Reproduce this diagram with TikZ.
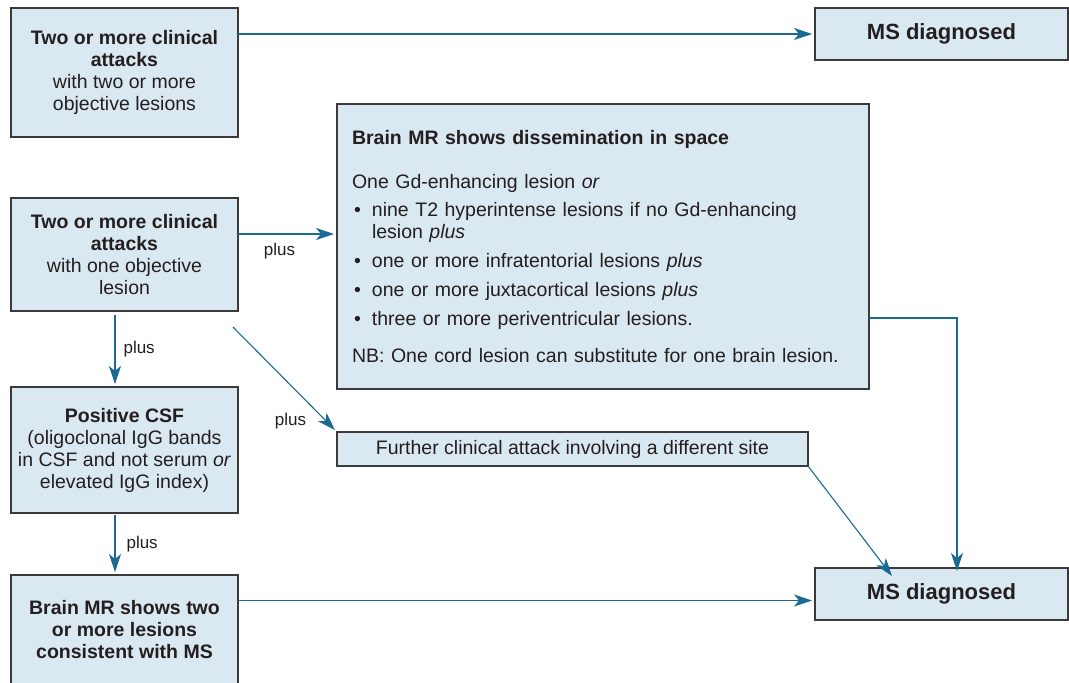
\documentclass[tikz,border=0pt]{standalone}
\usepackage{fontspec}
\setmainfont{Liberation Sans}
\usetikzlibrary{arrows.meta,positioning}
\definecolor{msFill}{HTML}{DAE8F1}
\definecolor{msEdge}{HTML}{3A3A3A}
\definecolor{msArrow}{HTML}{1A6A93}
\definecolor{msText}{HTML}{231F20}

\begin{document}
\begin{tikzpicture}[
  x=1pt, y=-1pt,
  box/.style={rectangle,draw=msEdge,fill=msFill,line width=1.3pt,align=center,inner sep=0pt,outer sep=0pt,minimum width=227pt,text=msText,font=\fontsize{19.5}{22}\selectfont},
  result/.style={box,minimum width=253pt,minimum height=52pt,font=\fontsize{22}{26}\selectfont\bfseries},
  arrow/.style={-{Stealth[length=18pt,width=12pt,inset=5pt]},line width=1.1pt,color=msArrow,shorten >=3pt},
  tag/.style={font=\fontsize{17}{20}\selectfont,text=msText,inner sep=0pt}
]
\useasboundingbox (0,0) rectangle (1069,683);
% left column
\node[box,anchor=north west,minimum height=129pt] (attacksA) at (11,8)
  {\textbf{Two or more clinical}\\\textbf{attacks}\\with two or more\\objective lesions};
\node[box,below=61pt of attacksA,minimum height=113pt] (attacksB)
  {\textbf{Two or more clinical}\\\textbf{attacks}\\with one objective\\lesion};
\node[box,below=76pt of attacksB,minimum height=126pt] (csf)
  {\textbf{Positive CSF}\\(oligoclonal IgG bands\\in CSF and not serum \textit{or}\\elevated IgG index)};
\node[box,below=62pt of csf,minimum height=109pt] (brainTwo)
  {\textbf{Brain MR shows two}\\\textbf{or more lesions}\\\textbf{consistent with MS}};
% middle
\node[box,anchor=north west,minimum width=532pt,minimum height=285pt,text width=502pt,inner xsep=15pt,align=left] (brainSpace) at (337,104)
  {\textbf{Brain MR shows dissemination in space}\\[22pt]
   One Gd-enhancing lesion \textit{or}\\[6pt]
   \makebox[20pt][l]{\hspace{2pt}\textbullet}nine T2 hyperintense lesions if no Gd-enhancing\\
   \hspace*{20pt}lesion \textit{plus}\\[7pt]
   \makebox[20pt][l]{\hspace{2pt}\textbullet}one or more infratentorial lesions \textit{plus}\\[7pt]
   \makebox[20pt][l]{\hspace{2pt}\textbullet}one or more juxtacortical lesions \textit{plus}\\[7pt]
   \makebox[20pt][l]{\hspace{2pt}\textbullet}three or more periventricular lesions.\\[15pt]
   NB: One cord lesion can substitute for one brain lesion.};
\node[box,anchor=north west,minimum width=471pt,minimum height=34pt] (further) at (337,432)
  {Further clinical attack involving a different site};
% results
\node[result,anchor=north west] (msTop) at (815,8) {MS diagnosed};
\node[result,anchor=north west] (msBottom) at (815,568) {MS diagnosed};
\coordinate (msIn) at ([yshift=-6.5pt]msBottom.west);
% connectors
\draw[arrow] (attacksA.east |- msTop.west) -- (msTop.west);
\draw[arrow] ([yshift=20.5pt]attacksB.east) -- ([yshift=20.5pt]attacksB.east -| brainSpace.west)
  node[tag,pos=0.42,below=9pt] {plus};
\draw[arrow,shorten <=4pt] ([xshift=-9.5pt]attacksB.south) -- ([xshift=-9.5pt]csf.north)
  node[tag,midway,right=8pt] {plus};
\draw[arrow] ([shift={(-5pt,-16pt)}]attacksB.south east) -- (further.north west)
  node[tag,pos=0.9,left=20pt] {plus};
\draw[arrow,shorten <=2pt] ([xshift=-9.5pt]csf.south) -- ([xshift=-9.5pt]brainTwo.north)
  node[tag,midway,right=11pt] {plus};
\draw[arrow] (brainTwo.east |- msIn) -- (msIn);
\draw[arrow,shorten >=0pt] (further.south east) -- ([shift={(77pt,-8pt)}]msBottom.north west);
\draw[arrow,shorten >=0pt] ([yshift=-71.5pt]brainSpace.east) -| ([shift={(142pt,-3pt)}]msBottom.north west);
\end{tikzpicture}
\end{document}
